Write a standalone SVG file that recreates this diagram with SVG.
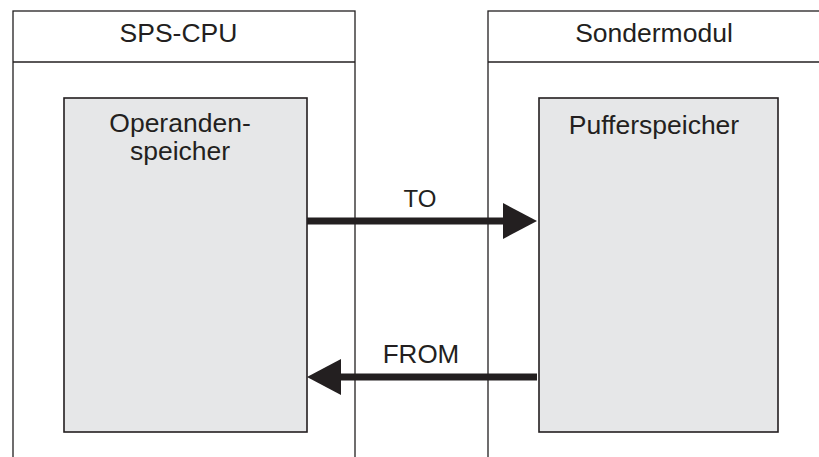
<svg xmlns="http://www.w3.org/2000/svg" width="819" height="457" viewBox="0 0 819 457">
<style>
.outer{fill:#fff;stroke:#231f20;stroke-width:1.3}
.inner{fill:#e6e7e8;stroke:#231f20;stroke-width:1.6}
.t{font-family:"Liberation Sans",Arial,sans-serif;font-size:26.5px;fill:#231f20;text-anchor:middle}
.conn{stroke:#231f20;stroke-width:7;fill:none}
.head{fill:#231f20}
</style>
<rect width="819" height="457" fill="#fff"/>
<g id="sps-cpu">
<rect class="outer" x="13" y="11" width="342" height="460"/>
<line x1="13" y1="62" x2="355" y2="62" stroke="#231f20" stroke-width="1.3"/>
<text class="t" x="178.5" y="42">SPS-CPU</text>
</g>
<g id="sondermodul">
<rect class="outer" x="488" y="11" width="350" height="460"/>
<line x1="488" y1="62" x2="838" y2="62" stroke="#231f20" stroke-width="1.3"/>
<text class="t" x="654" y="42">Sondermodul</text>
</g>
<g id="operandenspeicher">
<rect class="inner" x="64" y="98" width="243" height="334"/>
<text class="t" x="180" y="132">Operanden-</text>
<text class="t" x="180" y="160">speicher</text>
</g>
<g id="pufferspeicher">
<rect class="inner" x="539" y="98" width="239" height="334"/>
<text class="t" x="654" y="134">Pufferspeicher</text>
</g>
<g id="connectors">
<line class="conn" x1="307" y1="221" x2="505" y2="221"/>
<polygon class="head" points="503,203 537,221 503,239"/>
<text class="t" x="420" y="207" style="font-size:24px">TO</text>
<line class="conn" x1="537" y1="377" x2="338" y2="377"/>
<polygon class="head" points="341,359 307,377 341,395"/>
<text class="t" x="421" y="363" style="font-size:26px">FROM</text>
</g>
</svg>
